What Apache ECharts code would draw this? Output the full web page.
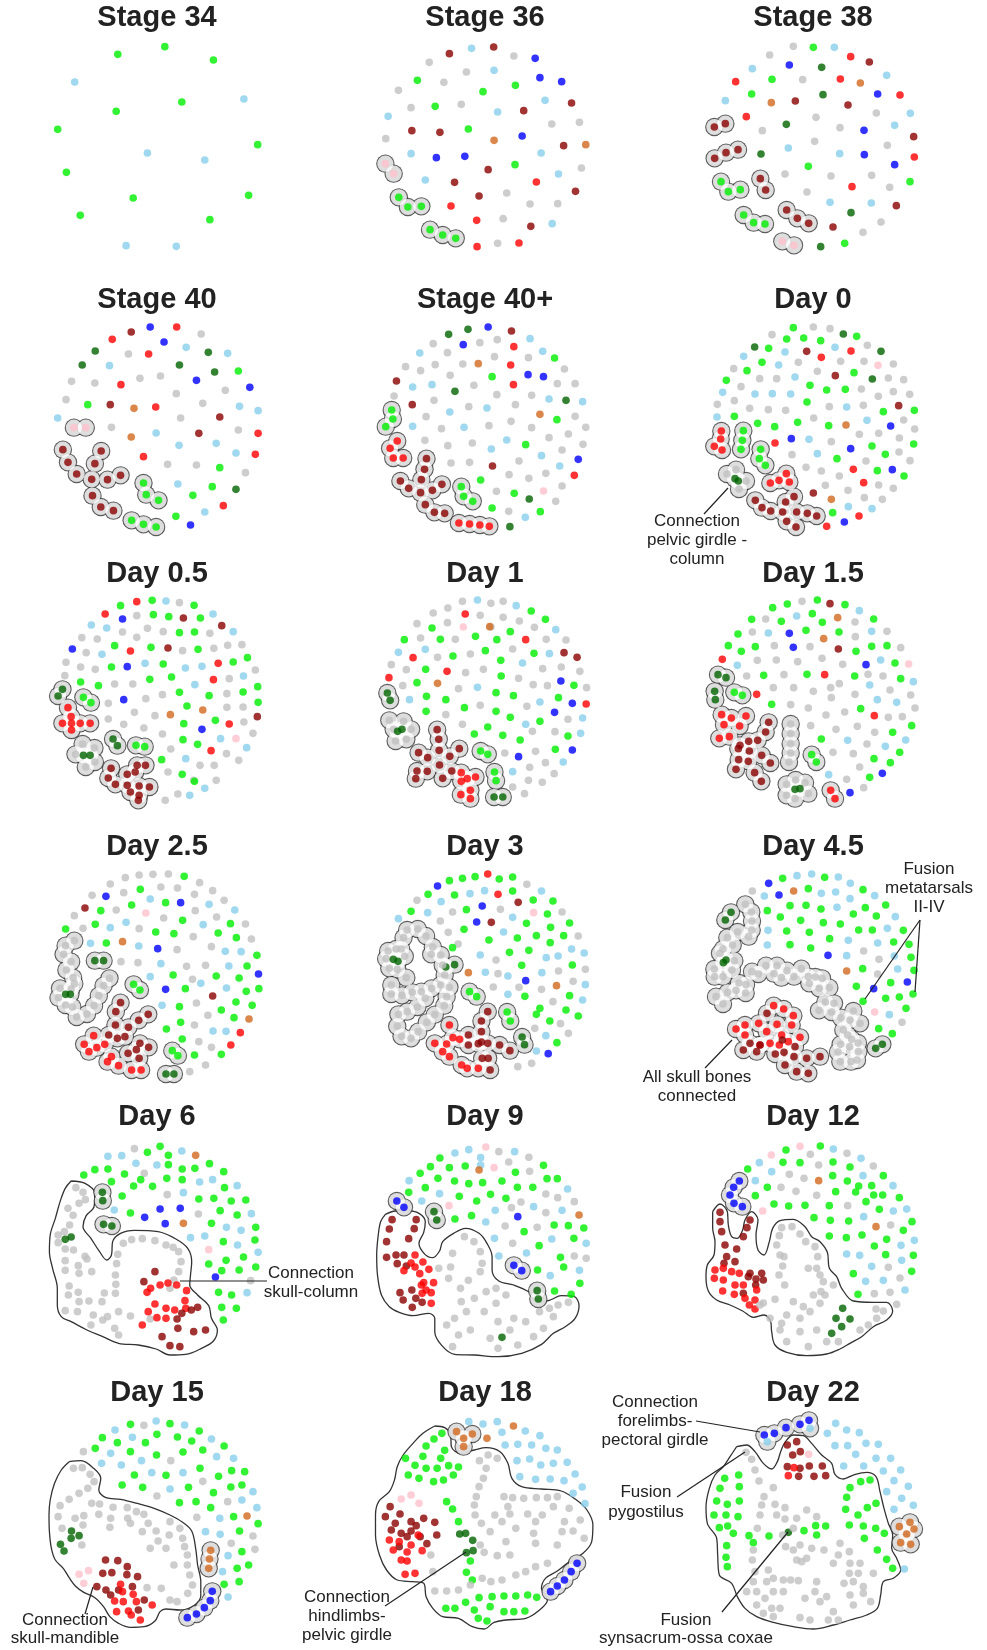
<!DOCTYPE html>
<html><head><meta charset="utf-8">
<script src="https://cdn.jsdelivr.net/npm/echarts@6/dist/echarts.min.js"></script>
<style>html,body{margin:0;padding:0;background:#fff}#c{width:987px;height:1650px}</style>
</head><body><div id="c"></div>
<script>
// ---------- DATA ----------
const panelTitles = ["Stage 34","Stage 36","Stage 38","Stage 40","Stage 40+","Day 0","Day 0.5","Day 1","Day 1.5","Day 2.5","Day 3","Day 4.5","Day 6","Day 9","Day 12","Day 15","Day 18","Day 22"];

// node tokens: colour code + x,y; upper-case code = node inside an outlined group
const stage34Dots = "g298,163 g417,140 g540,180 l189,246 g460,306 l617,297 g294,334 g146,388 g652,434 l373,459 l518,480 g168,517 g337,594 g629,586 g203,646 g531,659 l319,737 l446,739";
const stage36Dots = "d1137,161 l1193,145 d1249,141 a1300,168 b1354,175 a1086,187 a1180,216 l1250,211 b1366,233 b1421,245 g1056,241 a1123,247 g1222,275 g1304,256 a1008,271 l1379,301 d1446,309 a1040,323 g1101,319 a1167,313 l1259,336 d1325,332 l982,349 a1396,372 a1466,367 d1042,392 d1113,397 g1185,387 o1250,421 b1321,408 a976,416 d1426,437 o1482,434 l1040,461 b1104,473 b1176,469 l1369,459 P975,491 P996,521 d1235,509 g1303,494 a1471,504 l1076,540 d1150,547 r1357,546 l1413,522 G1009,592 G1032,621 G1066,619 r1141,618 d1212,588 a1282,579 a1341,612 a1411,611 d1456,574 r1206,661 a1273,656 d1343,679 l1397,671 G1088,689 G1120,705 G1153,715 r1207,740 a1259,730 r1313,729";
const stage38Dots = "a520,139 g580,142 l643,142 a449,165 r692,170 d748,186 l397,206 b508,195 k605,202 l800,226 r347,245 g456,238 a548,239 r661,237 o721,249 g395,282 k609,284 b773,282 r840,285 l316,302 o454,308 d526,303 d684,315 r379,350 a588,352 a769,339 l871,340 D283,381 D316,371 a427,392 k499,373 a660,383 b732,391 l824,376 d881,410 D284,475 D318,458 D354,449 k423,462 l505,444 a584,424 l659,461 b733,464 a802,436 r883,471 g565,499 b824,494 G303,545 G325,575 G361,569 D421,536 D437,570 a495,522 a633,528 a755,526 g870,545 a561,576 r696,560 a809,562 l630,607 l754,609 d829,617 G371,645 G401,668 G435,672 D500,630 D532,655 D566,670 k693,638 d639,681 a783,666 P487,724 P522,736 a729,697 k602,740 g674,730";
const stage40Dots = "d332,210 b380,195 r447,195 a509,216 r284,232 b415,240 l471,256 k241,267 a325,276 r376,276 k527,271 l576,274 k208,309 l277,311 k454,309 k543,330 g603,327 a181,358 a240,363 r306,368 a354,349 a406,342 b497,355 b632,376 a570,385 a167,413 g222,428 d279,428 o339,439 r394,435 a446,395 a513,424 l606,433 l653,446 l146,468 a457,468 d556,465 P187,497 P217,497 a282,496 o332,525 l395,513 d503,514 a603,504 r653,514 l453,550 l547,544 l597,573 r646,577 D159,563 D172,601 D194,636 D232,652 D240,605 D256,567 D272,653 D305,640 D234,701 D255,735 D287,746 r363,584 a424,607 a497,609 g556,617 a621,632 G363,663 G370,698 G401,715 l450,666 g537,674 k597,682 g488,700 r565,731 l518,750 g445,763 b482,789 G333,775 G363,787 G395,795";
const stage40pDots = "k1135,217 k1184,202 b1235,195 d1294,207 a1096,245 b1172,248 a1214,242 a1258,233 r1300,254 l1341,230 l1062,273 a1132,272 a1171,306 o1210,305 a1251,284 a1337,287 l1373,268 g1403,288 a1026,314 a1064,326 a1101,308 r1292,309 a1428,321 d1003,357 a1139,340 g1245,344 b1336,338 b1375,344 l1044,375 l1093,368 a1199,370 r1299,368 a1410,365 a1455,365 a997,402 k1151,388 a1257,398 a1345,400 l1389,411 k1432,415 l1474,419 d1043,428 a1098,415 l1138,450 a1186,434 l1232,438 a1304,428 G991,444 G994,471 G976,494 a1078,464 o1366,457 g1409,473 a1455,463 l1044,493 a1117,500 l1174,496 a1237,491 a1293,478 a1345,497 a1482,496 a1438,516 l1282,534 a1389,527 a1475,547 R1005,537 R987,559 R995,588 R1020,588 a1075,535 a1133,551 a1195,543 l1243,561 g1330,548 a1422,564 l1370,581 D1079,590 D1074,622 D1066,653 D1013,657 D1034,679 D1064,692 D1094,685 D1118,667 D1076,728 D1099,751 D1125,754 a1141,603 a1188,601 d1246,612 a1313,597 b1463,592 l1416,612 r1453,640 a1288,638 a1338,649 a1381,634 g1216,654 G1167,674 G1173,703 G1196,718 a1256,688 g1301,694 p1375,687 a1422,672 k1339,711 a1406,718 g1245,738 a1287,748 l1329,766 g1367,749 R1161,783 R1188,786 R1214,789 R1238,793 k1290,794";
const day0Dots = "g520,197 a580,195 a630,200 k670,216 g710,223 a456,218 g500,231 g551,228 g602,236 a742,250 k783,268 k404,255 g446,259 l495,270 d560,268 r604,286 l645,256 r693,267 l371,283 g426,301 l476,309 a535,301 a662,298 a732,298 p774,310 a820,306 a341,320 g381,326 a592,328 d646,341 g702,332 k757,351 a805,348 a851,353 g319,355 a419,350 a470,350 l525,345 g570,370 g620,384 g676,382 a724,381 a820,389 a869,397 a363,374 l308,391 l405,396 l457,395 l512,396 g561,420 a628,434 l680,435 a730,430 a775,403 d836,431 g790,449 g883,445 a292,427 a343,416 a389,439 a445,443 a497,445 a581,468 a851,474 l291,465 g343,463 g413,484 g464,494 g533,481 g626,491 o678,489 l741,475 b812,492 a776,514 a884,501 R304,507 R302,531 R283,553 R306,564 G370,506 G367,535 G363,562 r465,543 b514,530 l567,532 a634,539 a718,517 a838,528 g881,546 G422,562 G418,590 G436,610 a516,578 l592,575 b692,560 g756,552 g796,577 a837,570 a558,616 a604,627 g651,590 a738,597 a870,596 A321,636 A348,623 K345,650 K355,657 A378,657 A357,681 R499,635 R477,655 R451,663 R508,660 a658,642 r700,622 g772,626 b817,623 g852,642 a616,670 r731,662 a776,669 a820,679 d580,693 o634,712 a684,685 a733,707 a787,712 D406,715 D426,737 D452,747 D497,720 D522,704 D488,750 D530,750 D562,754 D590,762 D500,778 D528,795 g638,752 l685,734 l756,740 r717,762 b673,780 r620,793";
const day05Dots = "g305,221 r346,209 g385,205 l420,207 a454,212 g491,220 r266,246 b310,261 a346,251 g388,248 g427,254 d464,258 g507,258 l539,246 l231,279 l270,288 a310,300 a346,316 a373,289 a413,299 g454,302 g492,300 a531,304 d561,281 l590,299 a207,317 a246,321 g290,341 r330,357 g382,346 d425,348 a462,356 g501,352 a541,349 a576,340 a612,338 b183,351 a218,362 l258,367 a167,391 a204,405 a241,412 g282,405 b322,404 l367,394 g413,396 l469,408 l511,403 r552,394 g590,390 g626,377 a164,431 g204,450 g249,461 a290,456 a336,456 g379,442 g434,435 l493,458 r540,443 a580,440 l616,432 a646,414 K158,472 K147,492 G211,496 G230,512 a274,514 b313,503 a369,500 a411,488 g454,481 g529,491 a574,485 g615,480 g652,464 R172,527 R180,554 R158,574 R181,574 R203,574 R228,574 R181,594 a274,561 a340,541 a392,551 o431,548 g473,522 o513,534 a574,526 a615,525 g653,511 a313,577 a364,588 g465,575 g545,565 r580,576 a617,570 d651,554 a411,606 b511,592 l558,620 p597,620 a640,604 K286,621 K297,641 G344,640 G366,644 A209,636 A191,667 K211,670 K228,670 A240,690 A217,705 A239,648 a432,651 g463,623 g500,637 r534,656 l624,647 g409,683 l470,680 a506,700 a542,700 a573,665 a604,685 D347,700 D368,700 D281,709 D274,738 D292,757 D322,760 D322,727 D352,762 D378,765 D342,720 D330,780 D352,790 D350,805 a425,720 g461,727 a490,745 a547,745 g492,748 l518,769 a450,786 l480,790 a418,805";
const day1Dots = "a1170,208 l1208,204 a1242,214 a1273,208 l1306,221 g1344,237 g1380,262 a1096,243 a1133,228 r1177,246 a1215,250 a1273,256 a1242,285 a1314,267 a1055,275 a1132,272 p1172,285 o1239,284 a1352,286 l1406,293 g1093,288 a1064,318 g1023,323 g1114,322 a1152,322 g1203,313 g1257,323 g1291,299 r1330,323 a1382,322 a1432,324 l1008,361 l1076,352 a1107,376 g1146,372 a1190,366 g1228,356 a1297,351 g1351,364 l1390,365 d1427,362 d1460,376 r1045,377 a990,398 a1028,413 g1077,412 r1131,418 a1178,422 a1223,412 g1267,385 l1322,393 a1373,410 a1420,405 a1467,418 r984,437 a1019,461 g1055,452 o1107,454 a1160,470 l1208,466 g1268,432 a1312,439 a1349,458 a1385,461 b1419,447 g1452,460 a1484,467 l1036,503 g1079,493 g1128,503 a1215,520 g1255,482 g1299,491 a1333,523 l1366,510 g1413,497 b1448,514 r1483,516 K980,483 K987,505 g1078,538 a1128,548 g1175,527 g1255,538 g1291,556 g1366,568 b1403,541 a1437,562 l1474,558 a1170,577 g1234,585 l1330,577 g1200,606 g1272,610 g1316,624 a1347,598 a1404,599 l1469,604 g1437,612 A985,565 A996,592 K1006,598 K1017,592 A1040,592 A1028,622 A1001,627 A1021,568 D1106,593 D1110,622 D1111,655 D1059,662 D1082,677 D1138,673 D1162,650 D1055,717 D1081,718 D1112,699 D1052,740 D1120,739 D1143,717 R1167,722 R1182,740 R1203,735 R1167,748 R1190,775 R1166,788 R1190,800 G1216,657 G1234,667 a1277,663 b1312,674 a1355,658 g1405,652 b1448,654 G1251,720 G1255,746 l1297,719 a1340,706 a1380,692 l1425,690 a1297,765 a1337,745 a1372,751 a1402,725 K1250,795 K1272,795 a1327,785";
const day15Dots = "g458,227 g502,216 a546,208 g592,204 d630,215 g675,218 l718,236 g395,262 a437,261 g484,268 l530,252 g577,245 g607,271 o653,257 a705,270 g761,261 g354,306 a397,300 l445,303 b508,304 g558,295 g657,300 a706,314 l755,298 a801,298 g325,341 g364,358 g406,344 a463,341 b520,346 a570,344 o611,320 d655,351 g708,358 g755,343 g801,341 a842,347 r307,382 a412,385 a469,384 a533,389 a606,379 a668,397 b738,398 l782,384 g825,393 p866,396 l352,400 a380,432 g431,430 a492,428 g561,427 r614,428 a658,455 g704,432 a744,427 a789,432 g842,440 l880,449 a460,467 a521,467 a580,478 a632,467 a705,487 l749,459 a810,474 a872,489 r410,487 g455,517 a512,518 a565,528 a634,497 l772,503 l830,511 a885,528 a618,549 a674,540 g722,530 r763,551 a805,556 a847,554 K294,428 K318,437 K284,478 K286,503 G343,481 G367,490 R305,548 R334,558 R378,552 R312,578 R359,582 R298,619 R328,614 D446,571 D437,600 D413,625 D386,628 D355,650 D388,657 D425,670 D451,693 D356,683 D385,688 D348,712 D404,722 D424,748 D360,640 A512,576 A512,605 A512,635 A512,663 A507,690 a572,581 a648,592 g604,621 l683,625 a712,583 a764,601 g818,601 g875,581 a639,661 a700,665 a741,636 l796,643 g839,661 l857,624 G575,668 G589,690 g762,680 g811,692 a719,705 l626,728 a680,742 b787,724 g749,736 A500,757 A527,744 A555,752 A500,790 K525,772 K540,770 A565,785 A525,800 R632,775 R645,800 b690,782 a731,767";
const day25Dots = "a317,248 a352,240 a387,238 a426,237 g466,244 a279,267 a313,293 g355,283 a407,276 a449,279 a505,263 a538,287 a233,301 b268,304 l380,312 g419,323 b457,323 a492,298 l529,328 a567,316 d215,339 g255,347 a294,345 g333,330 p369,354 a414,369 a494,347 a548,366 l594,345 a188,362 g241,388 l279,398 l319,382 a352,401 g462,376 l514,389 g583,386 a621,387 g166,402 a210,400 l229,445 g269,444 o310,440 l351,453 g394,411 g440,416 b399,461 a448,464 a489,425 a535,455 g552,414 l570,469 g598,428 a636,432 l610,470 g650,481 K240,497 K262,497 a306,500 a349,503 l407,506 a472,514 a520,511 l579,513 g625,513 l380,545 g438,540 a487,553 g547,543 g605,549 b654,537 G338,568 G354,585 b419,583 g469,581 l508,565 l573,579 g623,589 g655,581 d538,603 l410,631 g454,635 a497,624 g560,645 g597,621 g638,631 a526,661 g457,682 a492,690 g592,668 o630,672 g421,702 g461,732 a503,740 l539,708 l572,709 r608,713 a535,757 r584,750 g560,778 g492,780 A188,437 A166,452 A161,478 A180,500 A168,525 A185,548 A152,580 A188,566 A180,582 A148,608 K166,598 K178,598 A166,630 A183,636 A194,666 A220,657 A238,632 A250,602 A262,572 A277,550 D305,623 D293,650 D292,690 D325,697 D351,676 D375,658 D275,720 D297,730 D316,725 R237,722 R213,748 R245,758 R265,748 D354,745 D376,757 D345,764 R282,785 D324,775 D352,790 R225,770 R300,812 R333,825 R357,825 R272,800 G436,767 G450,782 K420,837 K440,837 a480,830 a520,810";
const day3Dots = "g1137,257 g1170,250 g1202,245 r1234,237 g1263,252 g1297,246 a1333,268 l1370,288 b1107,273 g1083,298 g1150,300 l1189,296 l1226,287 r1260,298 g1297,288 d1311,322 g1349,315 g1399,318 a1055,316 l1116,320 a1145,351 g1180,344 b1220,333 a1266,343 l1297,367 p1350,353 g1385,357 a1422,351 g1040,349 l1082,353 a1114,378 b1206,381 d1243,382 g1332,385 g1393,397 g1441,384 l1008,371 a1134,412 g1174,403 l1274,411 g1309,429 g1357,422 g1392,443 g1426,422 a1463,423 a1159,447 g1237,435 g1145,458 l1215,480 a1255,495 g1289,472 g1338,466 l1382,488 l1412,483 l1446,462 l1478,474 K1128,516 K1150,509 o1185,533 l1228,532 a1260,536 l1285,543 g1320,511 l1371,533 a1413,528 g1448,510 a1481,523 G1188,590 G1206,605 a1248,576 l1285,598 b1330,557 g1328,604 a1370,583 o1408,572 a1450,559 l1481,569 G1283,651 G1291,678 a1313,577 g1357,658 g1366,640 a1399,620 g1441,602 l1474,615 g1391,678 g1432,645 g1463,663 K1321,726 K1327,749 a1353,700 l1381,722 a1418,686 a1438,715 g1409,743 l1357,768 b1387,776 A1030,405 A1057,402 A1078,423 A1095,456 A1091,478 A1115,480 A1120,510 A1125,540 A1021,428 A1015,462 A1024,484 A1002,462 A982,468 A977,491 K995,493 K1007,499 A985,520 A1005,523 A1028,548 A990,570 A990,597 A1017,601 A1043,592 A1066,590 A1076,610 A1092,580 A1115,570 A1137,577 A1130,605 A1124,632 A1100,659 A1080,682 A1058,710 A1040,730 A1016,724 A1005,694 A1008,658 A1030,650 A1056,636 D1234,650 D1218,678 D1218,710 D1218,741 R1137,690 R1146,728 R1163,733 D1185,720 D1210,746 R1100,745 R1130,747 R1120,770 D1234,745 D1264,750 D1290,767 D1185,750 R1137,785 R1168,810 R1182,820 D1220,790 D1235,790 D1240,825 R1210,820 a1310,815 a1345,805";
const day45Dots = "b446,265 g488,250 l531,242 l575,237 g614,247 l655,246 l691,265 g729,284 l764,302 g797,330 l826,365 a397,288 l433,303 b477,300 o521,288 g565,281 l604,295 l647,291 l690,311 g442,347 g481,366 g510,332 g558,331 g603,342 l651,337 g700,357 g736,338 g769,363 l444,406 g500,408 g542,376 g568,412 g610,383 g661,387 g716,405 g757,405 l802,400 g850,406 l442,450 g510,449 g572,459 g629,431 l685,436 a731,468 l773,444 g821,441 g867,448 b624,481 l680,482 a777,493 l823,483 g873,487 o680,528 g728,521 l833,522 g882,526 g709,574 b761,581 a773,537 g812,563 b862,561 g879,597 g729,619 g797,610 g838,606 p764,651 l808,659 g858,640 a846,682 g776,701 g817,716 K767,760 K787,748 K316,375 K333,352 A376,328 A394,351 A396,378 A395,405 A386,425 A353,411 A322,428 A338,450 A309,462 A300,475 K310,503 K318,495 A343,497 A283,522 A309,545 A284,545 A288,605 A309,627 A323,592 A348,586 A357,564 A336,525 A378,569 A377,594 A396,530 A415,537 A438,512 A462,536 A484,548 A471,512 A501,527 A522,545 A544,521 A565,545 A586,546 A606,550 A628,578 A598,580 A568,565 A616,621 A597,646 A635,651 A663,668 A690,675 A720,685 A700,648 A642,625 A670,705 A683,720 A695,733 A662,748 A689,755 A714,744 A715,770 A654,771 A661,800 A693,800 A711,795 R461,632 R491,642 R520,662 R471,688 R515,690 R485,720 R505,740 R540,727 R375,690 R348,702 R375,720 R416,685 R440,710 R478,750 R420,750 R450,745 D390,745 D370,765 D410,770 D420,750 D441,655 D466,777 D492,772 D522,785 D560,790 D600,785 D487,735 D525,755 D495,810 D530,830 D565,835";
const day6Dots = "a340,281 g373,292 g405,274 g426,301 l460,288 o495,301 l273,304 l308,302 g212,360 g240,344 g273,342 l344,325 a365,355 l397,330 g426,329 g461,342 g493,340 g530,326 g566,350 g282,380 g315,357 g356,374 g422,370 g461,374 l505,381 l538,374 g568,398 l600,392 g309,423 g338,393 g386,394 a423,419 l464,413 g503,432 g541,430 g585,438 g622,435 l289,465 g330,474 b366,487 b405,462 b456,460 a502,477 g557,467 g600,480 l636,476 b418,506 o464,505 g535,505 l573,517 l610,526 g647,517 l482,548 l518,543 g565,560 l601,570 g645,555 p528,584 g572,616 g616,606 l653,592 g528,627 g561,647 b545,666 g605,645 g647,636 a634,677 g553,712 g586,720 l625,713 g561,757 g598,760 K259,412 K260,437 K262,508 K283,513 a192,398 a210,412 a216,434 a200,445 a172,460 a185,481 a176,510 a163,530 a147,540 k165,553 k180,546 a147,563 a165,582 a186,585 a215,604 a220,612 a165,617 a198,632 a232,650 a200,655 a165,646 a175,693 a198,712 a173,720 a200,740 a225,738 a258,740 a264,714 a292,715 a293,688 a292,660 a295,626 a298,598 a312,565 a333,554 a360,551 a392,557 a420,570 a438,577 a452,590 a458,620 a452,650 a440,675 a430,700 a300,770 a272,785 a236,780 a196,770 a165,767 a330,783 a380,792 d392,650 d364,680 r381,700 r372,712 r405,690 r425,684 r447,690 r472,707 r468,737 r470,760 r442,765 r420,760 r392,747 r375,770 r397,788 r420,790 d460,775 d484,765 d500,757 d448,792 a230,810 a260,795 a290,820 a300,840 r360,810 d450,820 d490,830 d520,825 d410,845 d430,872 d455,875 g565,795";
const day9Dots = "p1229,276 l1186,284 l1151,294 a1262,290 l1302,290 l1216,308 g1113,309 a1287,321 a1338,307 g1089,335 g1137,338 g1177,333 l1216,330 o1212,345 p1250,338 g1304,352 a1340,349 g1375,331 g1063,355 g1108,370 g1150,378 g1186,386 g1221,383 g1270,378 g1309,397 g1348,397 g1384,371 g1410,371 l1035,377 g1076,398 l1112,416 g1162,424 g1206,438 g1241,418 g1280,430 a1318,441 a1381,417 a1411,428 l1436,402 g1034,412 l1067,438 p1136,452 g1151,492 g1193,482 l1229,501 l1253,466 a1294,458 l1350,455 a1381,473 l1422,466 a1453,440 b1310,485 o1465,480 a1278,513 g1326,530 a1359,517 g1402,510 g1438,512 g1477,519 l1251,550 a1297,565 g1364,572 l1396,552 g1452,550 l1483,565 l1262,603 l1332,594 g1418,607 a1453,603 a1483,610 g1360,645 l1392,662 g1426,636 l1466,646 g1403,708 g1445,718 g1467,685 B1004,438 B1022,457 K1098,470 K1105,495 B1300,631 B1320,647 K1359,707 K1362,732 d992,494 d1053,494 d985,522 d1048,521 d978,560 d1034,551 d978,607 d1002,600 d1022,600 r1050,600 d1005,626 d1028,633 r1040,624 r1050,636 r1070,621 r1022,647 r1062,656 r1085,643 r1072,683 r1097,683 d1012,713 d1042,705 r1066,690 r1068,715 r1091,713 d1020,735 d1052,730 d1068,742 r1091,745 d1043,757 r1078,705 a1175,545 a1199,560 a1215,590 a1220,625 a1215,650 a1185,676 a1165,700 a1140,636 a1145,595 a1110,640 a1135,670 a1167,740 a1200,730 a1230,710 a1255,700 a1280,720 a1255,745 a1225,770 a1180,770 a1150,790 a1365,770 a1390,760 a1412,750 a1438,742 a1400,785 a1300,790 a1330,800 a1130,810 a1160,840 a1190,825 a1260,800 k1270,847 a1240,850 a1290,825 a1350,845 a1375,820 a1145,875 a1310,870 a1260,880";
const day12Dots = "g498,285 p540,274 g601,273 l640,282 a681,295 l723,310 a760,333 g790,362 l819,392 p454,300 l418,323 g489,322 g540,323 a571,298 a596,330 g639,321 g690,336 l729,362 g755,392 g788,420 g838,428 l860,462 g383,342 l455,350 a508,358 a552,370 o596,377 g638,362 g682,378 g716,393 g738,440 g778,463 l820,468 g876,500 l406,377 g442,397 a483,397 a528,409 a590,421 g647,410 g707,411 g761,420 g406,422 g462,447 g506,453 g555,451 g628,452 a683,452 p428,468 g582,488 g631,496 g686,498 l731,485 o768,515 a812,510 g850,526 g628,543 g679,548 g726,540 g763,573 g800,553 l843,571 l883,556 l680,597 l719,601 g797,599 a805,637 l845,616 g880,601 g700,656 l755,634 a840,669 g875,649 l737,679 l790,676 a810,712 l855,705 g714,718 a763,716 a830,748 a768,762 a790,768 B358,378 B341,397 B330,420 B342,445 B367,455 d300,472 d300,500 d305,530 d315,570 d350,582 d320,605 d345,620 d390,495 d381,518 d370,545 d312,625 r285,645 r310,640 r335,650 r358,655 d390,655 d408,672 d425,655 d430,675 d385,665 r283,670 r310,675 r345,690 r370,690 d370,715 d407,690 r308,708 r343,718 r375,730 r405,735 r388,750 r405,762 r410,705 a485,518 a516,515 a540,537 a557,560 a478,542 a470,570 a480,600 a492,605 a488,633 a477,660 a494,690 a465,733 a430,744 a420,750 a520,740 a550,755 a570,770 a585,575 a593,605 a565,640 a590,640 a600,660 a610,680 a640,690 a603,710 a580,720 a615,720 a600,745 a450,790 a500,780 a540,790 k668,760 k648,790 k690,792 k665,815 k635,835 a485,805 a480,825 a500,860 a540,830 a565,875 a590,825 a620,860 a655,860 a720,825 a745,810 a770,790";
const day15bDots = "l395,318 g330,328 a364,331 g430,326 l467,330 g504,348 l291,345 g259,368 g297,383 l335,367 g368,383 g397,358 g449,366 g485,378 l535,372 g567,393 a211,410 g241,400 l280,415 g330,410 l358,437 g396,420 a432,437 g463,411 g513,405 l548,425 l591,430 l257,445 l307,450 g340,480 l384,473 g420,481 l463,473 g506,460 g553,484 g586,467 g619,470 g309,510 g361,517 l430,522 g477,517 a513,499 g540,533 g584,516 g612,510 l640,530 a397,543 g454,563 g496,560 a576,560 l612,555 g533,578 l650,578 a498,607 l556,610 g591,605 o625,603 g653,626 l520,650 l557,658 g606,648 a640,663 a585,685 g612,710 a645,703 l577,722 g600,760 g629,750 l563,770 g567,808 g605,800 l577,846 O533,706 O530,732 O528,760 B537,829 B532,857 B517,878 B497,897 B474,908 a186,460 a208,458 a228,478 a238,500 a222,520 a200,535 a175,553 a152,572 a147,605 a157,640 a190,610 a212,602 a232,565 a252,567 a250,598 a280,610 a286,577 a322,578 a345,590 a364,598 a323,610 a330,625 a375,625 a395,648 a400,678 a360,650 a278,637 a210,630 a207,690 a380,700 a420,700 a428,660 a430,620 a455,640 a462,670 a467,695 a474,720 a474,750 a480,780 a487,810 a475,835 a448,860 a430,855 a408,820 a372,818 a440,750 k181,648 k200,662 k180,670 k153,688 k162,708 d267,735 d298,737 d260,775 d283,773 d322,755 d321,779 d348,785 p200,778 p224,767 p212,805 d245,815 d268,825 d280,840 d300,825 r305,808 r310,830 r290,858 r312,860 d335,815 r337,838 r345,860 d365,855 d350,885 r385,870 r295,890 r325,888 r355,915 r332,900";
const day18Dots = "l1186,320 l1222,327 l1258,320 o1299,333 l1329,348 l1366,362 l1270,352 l1278,390 l1310,388 l1345,390 l1381,400 l1410,405 l1308,437 l1340,432 l1368,450 l1400,445 l1435,442 l1315,485 l1355,493 l1392,492 l1427,497 l1455,477 l1473,516 l1450,535 l1480,566 O1155,350 O1195,357 O1173,370 O1173,395 o1232,370 g1118,355 g1098,372 g1078,393 g1125,406 g1115,430 g1070,424 g1026,430 g1050,451 g1078,460 g1106,460 g1135,452 g1160,456 g1033,480 g1060,490 g1097,500 g1122,495 g1147,480 g1130,560 g1145,582 g1160,620 k1163,657 k1178,655 k1196,676 k1180,713 k1197,707 g1190,738 g1180,772 g1195,795 g1212,848 g1245,845 g1275,843 g1305,843 g1335,840 g1358,847 g1128,880 g1151,880 g1178,862 g1200,885 g1240,875 g1275,890 g1300,890 g1328,888 g1210,910 g1232,918 p1015,552 p1040,540 p1060,565 d987,575 d1012,597 d975,605 d1040,620 d1072,610 d1100,622 d1053,632 d1000,625 d990,645 d1015,655 d1030,665 d1040,648 d1063,665 d1080,686 d1105,660 d1010,695 r985,675 r1010,680 r1040,690 r1058,660 r1030,711 r1068,707 r1015,735 r1030,738 r1025,778 r1050,775 r995,705 a1213,437 a1235,420 a1258,430 a1230,460 a1223,490 a1212,515 a1205,545 a1200,570 a1202,600 a1218,625 a1240,650 a1215,690 a1225,712 a1258,722 a1280,680 a1290,720 a1305,640 a1270,620 a1252,600 a1285,575 a1275,545 a1297,548 a1325,550 a1357,548 a1290,597 a1335,597 a1355,620 a1350,655 a1355,685 a1385,548 a1410,545 a1400,575 a1440,580 a1428,620 a1468,615 a1450,648 a1478,670 a1422,650 a1410,690 a1372,600 a1385,745 a1355,755 a1330,770 a1305,780 a1270,795 a1242,800 a1220,790 a1190,810 a1160,825 a1130,828 a1100,828 a1095,770 a1090,720 B1393,830 B1410,813 B1428,795 B1445,770 B1460,745";
const day22Dots = "B433,360 B463,355 B498,338 B540,328 B567,316 L570,340 L442,380 l647,325 l622,355 l680,345 l718,353 l645,392 l683,392 l738,385 l775,388 l707,418 l768,430 l812,430 l671,453 l731,453 l790,468 l842,465 l822,497 l865,514 l800,530 l845,550 l880,571 l822,583 l853,762 d502,390 d530,380 d518,420 d541,410 p566,418 d502,455 d540,460 d568,453 d607,453 r522,458 r505,482 d536,484 d582,484 d617,482 O838,635 O870,622 O882,642 O860,657 O842,683 O872,688 g314,490 g356,480 g300,520 g358,515 g290,558 g322,568 g358,558 g282,600 g318,600 g354,605 g298,638 g323,633 g340,655 g387,662 g400,683 g447,663 g320,692 g318,727 g322,755 g690,518 g722,500 g750,495 g680,547 g677,583 g714,600 g742,578 g768,565 g688,630 g730,633 g767,640 g793,655 g733,670 g772,705 g800,733 g818,760 g552,647 g587,632 g617,633 g590,660 k505,652 a378,412 a395,433 a405,465 a417,498 a460,518 a432,545 a425,570 a420,600 a412,640 a465,568 a495,578 a470,600 a495,612 a530,610 a560,585 a590,605 a520,640 a488,660 a497,695 a520,705 a540,690 a545,740 a560,730 a575,700 a530,735 a400,705 a397,735 a405,770 a445,765 a460,790 a490,795 a512,795 a535,797 a460,830 a490,830 a440,800 a400,800 a380,830 a410,830 a435,850 a410,870 a455,880 a480,880 a430,895 a460,905 a540,908 a570,915 a585,830 a590,800 a555,850 a600,860 a620,845 a640,890 a625,915 a655,915 a612,705 a640,745 a660,685 a688,710 a655,720 a690,745 a720,745 a715,775 a688,775 a672,805 a700,800 a730,815 a760,775 a730,835 a752,860 a690,840 a700,870";

const panelDots = [stage34Dots, stage36Dots, stage38Dots, stage40Dots, stage40pDots, day0Dots, day05Dots, day1Dots, day15Dots, day25Dots, day3Dots, day45Dots, day6Dots, day9Dots, day12Dots, day15bDots, day18Dots, day22Dots];

// outlines of the large merged modules
const day6Outline = "180,378 215,385 240,415 238,455 218,482 210,515 230,550 252,590 270,615 282,600 285,560 305,535 340,526 400,530 445,552 475,580 485,620 482,660 480,690 500,720 528,752 535,790 550,825 540,858 510,880 470,898 430,900 395,882 350,870 300,865 260,845 220,825 180,800 155,785 145,750 145,700 133,640 125,590 127,540 140,490 152,440 165,400";
const day9Outline = "975,478 1000,468 1030,467 1060,475 1076,500 1072,532 1060,565 1075,598 1095,608 1112,588 1120,560 1148,535 1178,520 1212,535 1232,565 1245,605 1245,645 1262,678 1300,690 1340,712 1365,742 1392,735 1420,722 1452,724 1465,752 1455,790 1430,815 1400,835 1370,868 1320,895 1260,905 1200,900 1150,898 1118,872 1100,830 1100,790 1085,775 1045,782 1010,772 985,755 965,720 955,660 953,600 957,540 963,500";
const day12Outline = "278,470 300,447 322,470 325,510 335,545 352,550 368,525 375,495 395,470 414,495 408,540 414,585 432,600 448,560 458,520 480,497 520,493 555,515 575,545 600,560 622,592 628,640 650,665 665,700 700,738 760,742 800,742 818,768 800,795 760,815 725,845 690,865 660,882 620,897 560,902 500,892 465,870 455,830 452,800 432,780 400,787 368,768 330,750 290,735 265,708 258,665 262,630 282,600 285,560 278,520";
const day15Outline = "175,440 205,437 235,458 255,490 250,525 268,548 305,553 350,566 390,580 430,600 462,622 485,648 495,700 500,750 508,800 508,842 490,872 455,885 420,882 405,890 392,918 365,935 330,937 300,925 278,905 262,875 240,848 212,832 190,812 175,788 160,760 140,735 130,700 125,650 124,600 127,555 138,505 155,465";
const day18Outline = "1100,333 1125,338 1140,360 1142,395 1165,415 1200,405 1230,398 1265,410 1285,445 1295,490 1320,515 1370,522 1420,528 1455,552 1485,585 1500,630 1497,680 1475,715 1440,740 1410,768 1380,790 1370,820 1385,855 1365,885 1330,910 1280,915 1250,922 1225,942 1195,935 1160,910 1120,905 1095,880 1078,845 1072,805 1045,800 1005,795 978,765 960,720 950,660 950,600 958,560 985,530 998,495 1005,455 1020,420 1045,385 1070,355";
const day22Outline = "350,395 380,390 405,410 430,445 455,462 472,440 482,410 495,382 520,360 550,362 575,385 605,420 635,445 645,478 670,492 700,480 740,472 768,485 780,530 792,580 805,625 818,660 815,700 830,730 842,765 820,790 790,800 782,840 772,880 740,900 690,915 640,930 580,942 520,935 460,922 410,905 375,880 352,845 335,805 298,780 293,720 290,670 262,625 258,575 268,520 285,480 310,455 330,425";
const panelOutlines = {12: day6Outline, 13: day9Outline, 14: day12Outline, 15: day15Outline, 16: day18Outline, 17: day22Outline};

const annotationLines = [
  ["Connection","pelvic girdle -","column"],
  ["Fusion","metatarsals","II-IV"],
  ["All skull bones","connected"],
  ["Connection","skull-column"],
  ["Connection","skull-mandible"],
  ["Connection","hindlimbs-","pelvic girdle"],
  ["Connection","forelimbs-","pectoral girdle"],
  ["Fusion","pygostilus"],
  ["Fusion","synsacrum-ossa coxae"]
];

// ---------- LAYOUT / STYLE ----------
const W = 987, H = 1650, SY = 3;
const COLORS = {g:'#00ef00', l:'#87ceeb', a:'#c0c0c0', d:'#8b0000', r:'#ff0000', b:'#0000ff', k:'#006400', o:'#d2691e', p:'#ffc0cb'};
const crops = [
  {ox:0,oy:0,sx:2.53},{ox:620,oy:0,sx:3},
  {ox:0,oy:262,sx:2.53},{ox:620,oy:262,sx:3},
  {ox:0,oy:532,sx:2.53},{ox:620,oy:532,sx:3},
  {ox:0,oy:795,sx:2.53},{ox:620,oy:795,sx:3},
  {ox:0,oy:1055,sx:2.53},{ox:620,oy:1055,sx:3},
  {ox:0,oy:1315,sx:2.53},{ox:620,oy:1315,sx:3}
];
const panelCrop = [0,0,1,2,2,3,4,4,5,6,6,7,8,8,9,10,10,11];
const titleRowY = [18,300,574,847,1117,1393];
const titleColX = [157,485,813];
const annotationPos = [ // [centerX, firstLineY, lineGap]
  [697,521,19],[929,869,19],[697,1077,19],[311,1273,19],[65,1620,18],[347,1597,19],[655,1402,19],[646,1492,20],[686,1620,18]
];
const leaders = [
  [704,514,728,488],[920,920,865,999],[920,920,915,992],[705,1068,732,1040],[180,1281,267,1281],
  [85,1614,93,1587],[385,1606,466,1552],[696,1421,760,1432],[677,1497,745,1452],[722,1612,788,1532]
];

function parseDots(str){
  const out=[]; str.replace(/([a-zA-Z])(\d+),(\d+)/g,(m,c,x,y)=>{out.push({c:c.toLowerCase(),grp:c!==c.toLowerCase(),x:+x,y:+y});return m;});
  return out;
}
function parsePts(str){ return str.trim().split(/\s+/).map(t=>t.split(',').map(Number)); }

const grid=[], xAxis=[], yAxis=[], series=[];
crops.forEach((c,i)=>{
  const gw = W - c.ox, gh = H - c.oy;
  grid.push({left:c.ox, top:c.oy, width:gw, height:gh, show:false});
  xAxis.push({type:'value', gridIndex:i, min:0, max:gw*c.sx, show:false});
  yAxis.push({type:'value', gridIndex:i, min:0, max:gh*SY, inverse:true, show:false});
});

panelDots.forEach((str,p)=>{
  const ci = panelCrop[p];
  const dots = parseDots(str);
  const grp = dots.filter(d=>d.grp).map(d=>[d.x,d.y]);
  if (grp.length){
    series.push({type:'scatter', xAxisIndex:ci, yAxisIndex:ci, data:grp, symbolSize:18.4, itemStyle:{color:'#333333'}, z:2, silent:true, clip:false, animation:false});
    series.push({type:'scatter', xAxisIndex:ci, yAxisIndex:ci, data:grp, symbolSize:16.2, itemStyle:{color:'#ffffff'}, z:3, silent:true, clip:false, animation:false});
  }
  if (panelOutlines[p]){
    const pts = parsePts(panelOutlines[p]); pts.push(pts[0]);
    series.push({type:'line', xAxisIndex:ci, yAxisIndex:ci, data:pts, smooth:0.35, symbol:'none', lineStyle:{color:'#333333', width:1.3}, z:3, silent:true, clip:false, animation:false});
  }
  series.push({type:'scatter', xAxisIndex:ci, yAxisIndex:ci, symbolSize:7.6, z:5, silent:true, clip:false, animation:false,
    data: dots.map(d=>({value:[d.x,d.y], itemStyle:{color:COLORS[d.c]}}))});
});

const graphic=[];
panelTitles.forEach((t,i)=>{
  graphic.push({type:'text', x:titleColX[i%3], y:titleRowY[Math.floor(i/3)], z:10,
    style:{text:t, font:'bold 29px "Liberation Sans", Arial, sans-serif', fill:'#222', align:'center', verticalAlign:'middle', textAlign:'center', textVerticalAlign:'middle'}});
});
annotationLines.forEach((lines,i)=>{
  const [cx,y0,gap]=annotationPos[i];
  lines.forEach((t,j)=>graphic.push({type:'text', x:cx, y:y0+j*gap, z:10,
    style:{text:t, font:'17px "Liberation Sans", Arial, sans-serif', fill:'#222', align:'center', verticalAlign:'middle', textAlign:'center', textVerticalAlign:'middle'}}));
});
leaders.forEach(l=>graphic.push({type:'line', z:10, shape:{x1:l[0],y1:l[1],x2:l[2],y2:l[3]}, style:{stroke:'#222', lineWidth:1.2}}));

const chart = echarts.init(document.getElementById('c'), null, {renderer:'canvas'});
chart.setOption({animation:false, backgroundColor:'#ffffff', grid, xAxis, yAxis, series, graphic});
</script>
</body></html>
